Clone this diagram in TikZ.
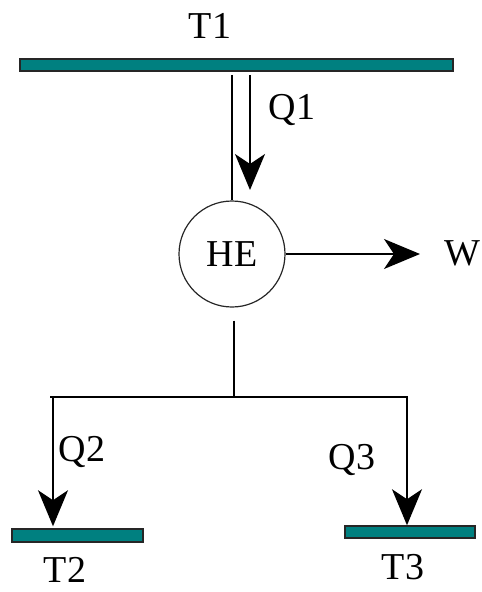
\documentclass[tikz,border=0pt]{standalone}
\usepackage{fontspec}
\setmainfont{Liberation Serif}
\usepackage{tikz}
\usetikzlibrary{arrows.meta, positioning}
\definecolor{barteal}{RGB}{0,128,128}

\begin{document}
\begin{tikzpicture}[x=1pt, y=-1pt, font=\fontsize{38}{40}\selectfont]
    \tikzstyle{reservoir} = [draw=black!85, line width=1.5pt, rectangle, fill=barteal, inner sep=0pt]
    \tikzstyle{engine} = [draw=black!85, circle, line width=1.2pt, minimum size=106pt, inner sep=0pt]
    \tikzstyle{line} = [draw, line width=1.5pt]
    \tikzstyle{flow} = [draw, line width=1.5pt, -{Stealth[length=36pt, width=30pt, inset=10pt]}]

    \useasboundingbox (0,0) rectangle (482,592);

    % reservoirs and heat engine
    \node [reservoir, minimum width=433pt, minimum height=12pt] (T1bar) at (236.5,65) {};
    \node [engine] (he) at (232,254) {HE};
    \node [reservoir, minimum width=131pt, minimum height=13pt] (T2bar) at (77.5,535.5) {};
    \node [reservoir, minimum width=130pt, minimum height=12pt] (T3bar) at (410,532) {};

    % labels
    \node (T1) at (210,26) {T1};
    \node (T2) at (65,570) {T2};
    \node (T3) at (403,567) {T3};
    \node (Q1) at (292,110) {Q1};
    \node (Q2) at (82,452) {Q2};
    \node (Q3) at (352,460) {Q3};
    \node (W) at (462,253) {W};

    \coordinate (q1end) at (250,190);
    \coordinate (wend) at (420,254);
    \coordinate (split) at (234,397);

    % heat in
    \draw [line] ([yshift=-3pt]he.north |- T1bar.south) -- (he.north);
    \draw [flow] ([yshift=-3pt]T1bar.south -| q1end) -- (q1end);

    % work out
    \draw [flow] (he.east) -- (he.east -| wend);

    % heat rejected to T2 and T3
    \draw [line] ([xshift=2pt, yshift=-13pt]he.south) -- (split);
    \draw [line] (split) -- ++(-184,0);
    \draw [flow] (split) -| ([xshift=-24.5pt, yshift=2pt]T2bar.north);
    \draw [flow] (split) -| ([xshift=-3pt]T3bar.north);
\end{tikzpicture}
\end{document}
